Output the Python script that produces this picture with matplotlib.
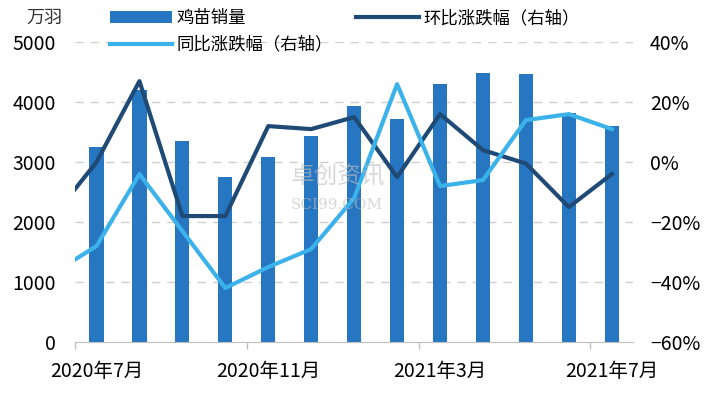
import matplotlib.pyplot as plt
from matplotlib.ticker import FuncFormatter, FixedLocator

plt.rcParams["font.family"] = ["Noto Sans CJK SC", "DejaVu Sans"]
plt.rcParams["axes.unicode_minus"] = True

# months on the category axis (first one only feeds the clipped line start)
months = ["2020年6月", "2020年7月", "2020年8月", "2020年9月", "2020年10月", "2020年11月",
          "2020年12月", "2021年1月", "2021年2月", "2021年3月", "2021年4月", "2021年5月",
          "2021年6月", "2021年7月"]
sales = [None, 3250, 4200, 3360, 2750, 3080, 3430, 3930, 3720, 4300, 4480, 4470, 3820, 3610]
mom = [-18, 0, 27, -18, -18, 12, 11, 15, -5, 16, 4, -0.5, -15, -4]   # 环比, %
yoy = [-37, -28, -4, -23, -42, -35, -29, -12, 26, -8, -6, 14, 16, 11]  # 同比, %
tick_months = ["2020年7月", "2020年11月", "2021年3月", "2021年7月"]

BAR = "#2776C2"
DARK = "#1F4A75"
LIGHT = "#3CB2EA"
GRID = "#CFCFCF"

x = list(range(-1, len(months) - 1))
bar_x = [i for i, v in zip(x, sales) if v is not None]
bar_v = [v for v in sales if v is not None]

fig = plt.figure(figsize=(7.18, 3.94), dpi=100)
ax = fig.add_axes([0.1045, 0.132, 0.7775, 0.761])
ax2 = ax.twinx()

bars = ax.bar(bar_x, bar_v, width=0.33, color=BAR, zorder=2, label="鸡苗销量")
ax.set_ylim(0, 5000)
ax.set_xlim(-0.5, len(months) - 1.5)
ax.set_yticks(range(0, 5001, 1000))
for yv in range(1000, 5001, 1000):
    ax.axhline(yv, color=GRID, lw=1, ls=(0, (6, 5)), zorder=1)

l_mom, = ax2.plot(x, mom, color=DARK, lw=3, label="环比涨跌幅（右轴）", zorder=3)
l_yoy, = ax2.plot(x, yoy, color=LIGHT, lw=3, label="同比涨跌幅（右轴）", zorder=3)
ax2.set_ylim(-60, 40)
ax2.set_yticks(range(-60, 41, 20))
ax2.yaxis.set_major_formatter(FuncFormatter(lambda v, p: f"{v:.0f}%".replace("-", "\u2212")))

# category ticks: labels at month centres, short tick marks at group boundaries
ax.set_xticks([months.index(m) - 1 for m in tick_months])
ax.set_xticklabels(tick_months)
ax.xaxis.set_minor_locator(FixedLocator([months.index(m) - 1.5 for m in tick_months]))
ax.tick_params(axis="x", which="major", length=0, pad=14, labelsize=14)
ax.tick_params(axis="x", which="minor", length=5, color="#BFBFBF", width=1)
ax.tick_params(axis="y", length=0, pad=14, labelsize=14)
ax2.tick_params(axis="y", length=0, pad=12, labelsize=14)

for a in (ax, ax2):
    for s in a.spines.values():
        s.set_visible(False)
ax.spines["bottom"].set_visible(True)
ax.spines["bottom"].set_color("#BFBFBF")

fig.text(0.087, 0.955, "万羽", fontsize=13, ha="right", va="center", color="#333333")

# faint source watermark
fig.text(0.405, 0.535, "卓创资讯", fontsize=17, color="#BDBDBD", alpha=0.6, zorder=0)
fig.text(0.405, 0.47, "SCI99.COM", fontsize=11, color="#BDBDBD", alpha=0.6,
         family="DejaVu Serif", zorder=0)

fig.legend([bars, l_yoy, l_mom], ["鸡苗销量", "同比涨跌幅（右轴）", "环比涨跌幅（右轴）"],
           ncol=2, loc="upper left", bbox_to_anchor=(0.143, 0.995), frameon=False,
           fontsize=12.5, handlelength=3.6, handleheight=0.7, handletextpad=0.25,
           columnspacing=1.35, labelspacing=0.5, borderaxespad=0)

fig.savefig("out.png", dpi=100)
